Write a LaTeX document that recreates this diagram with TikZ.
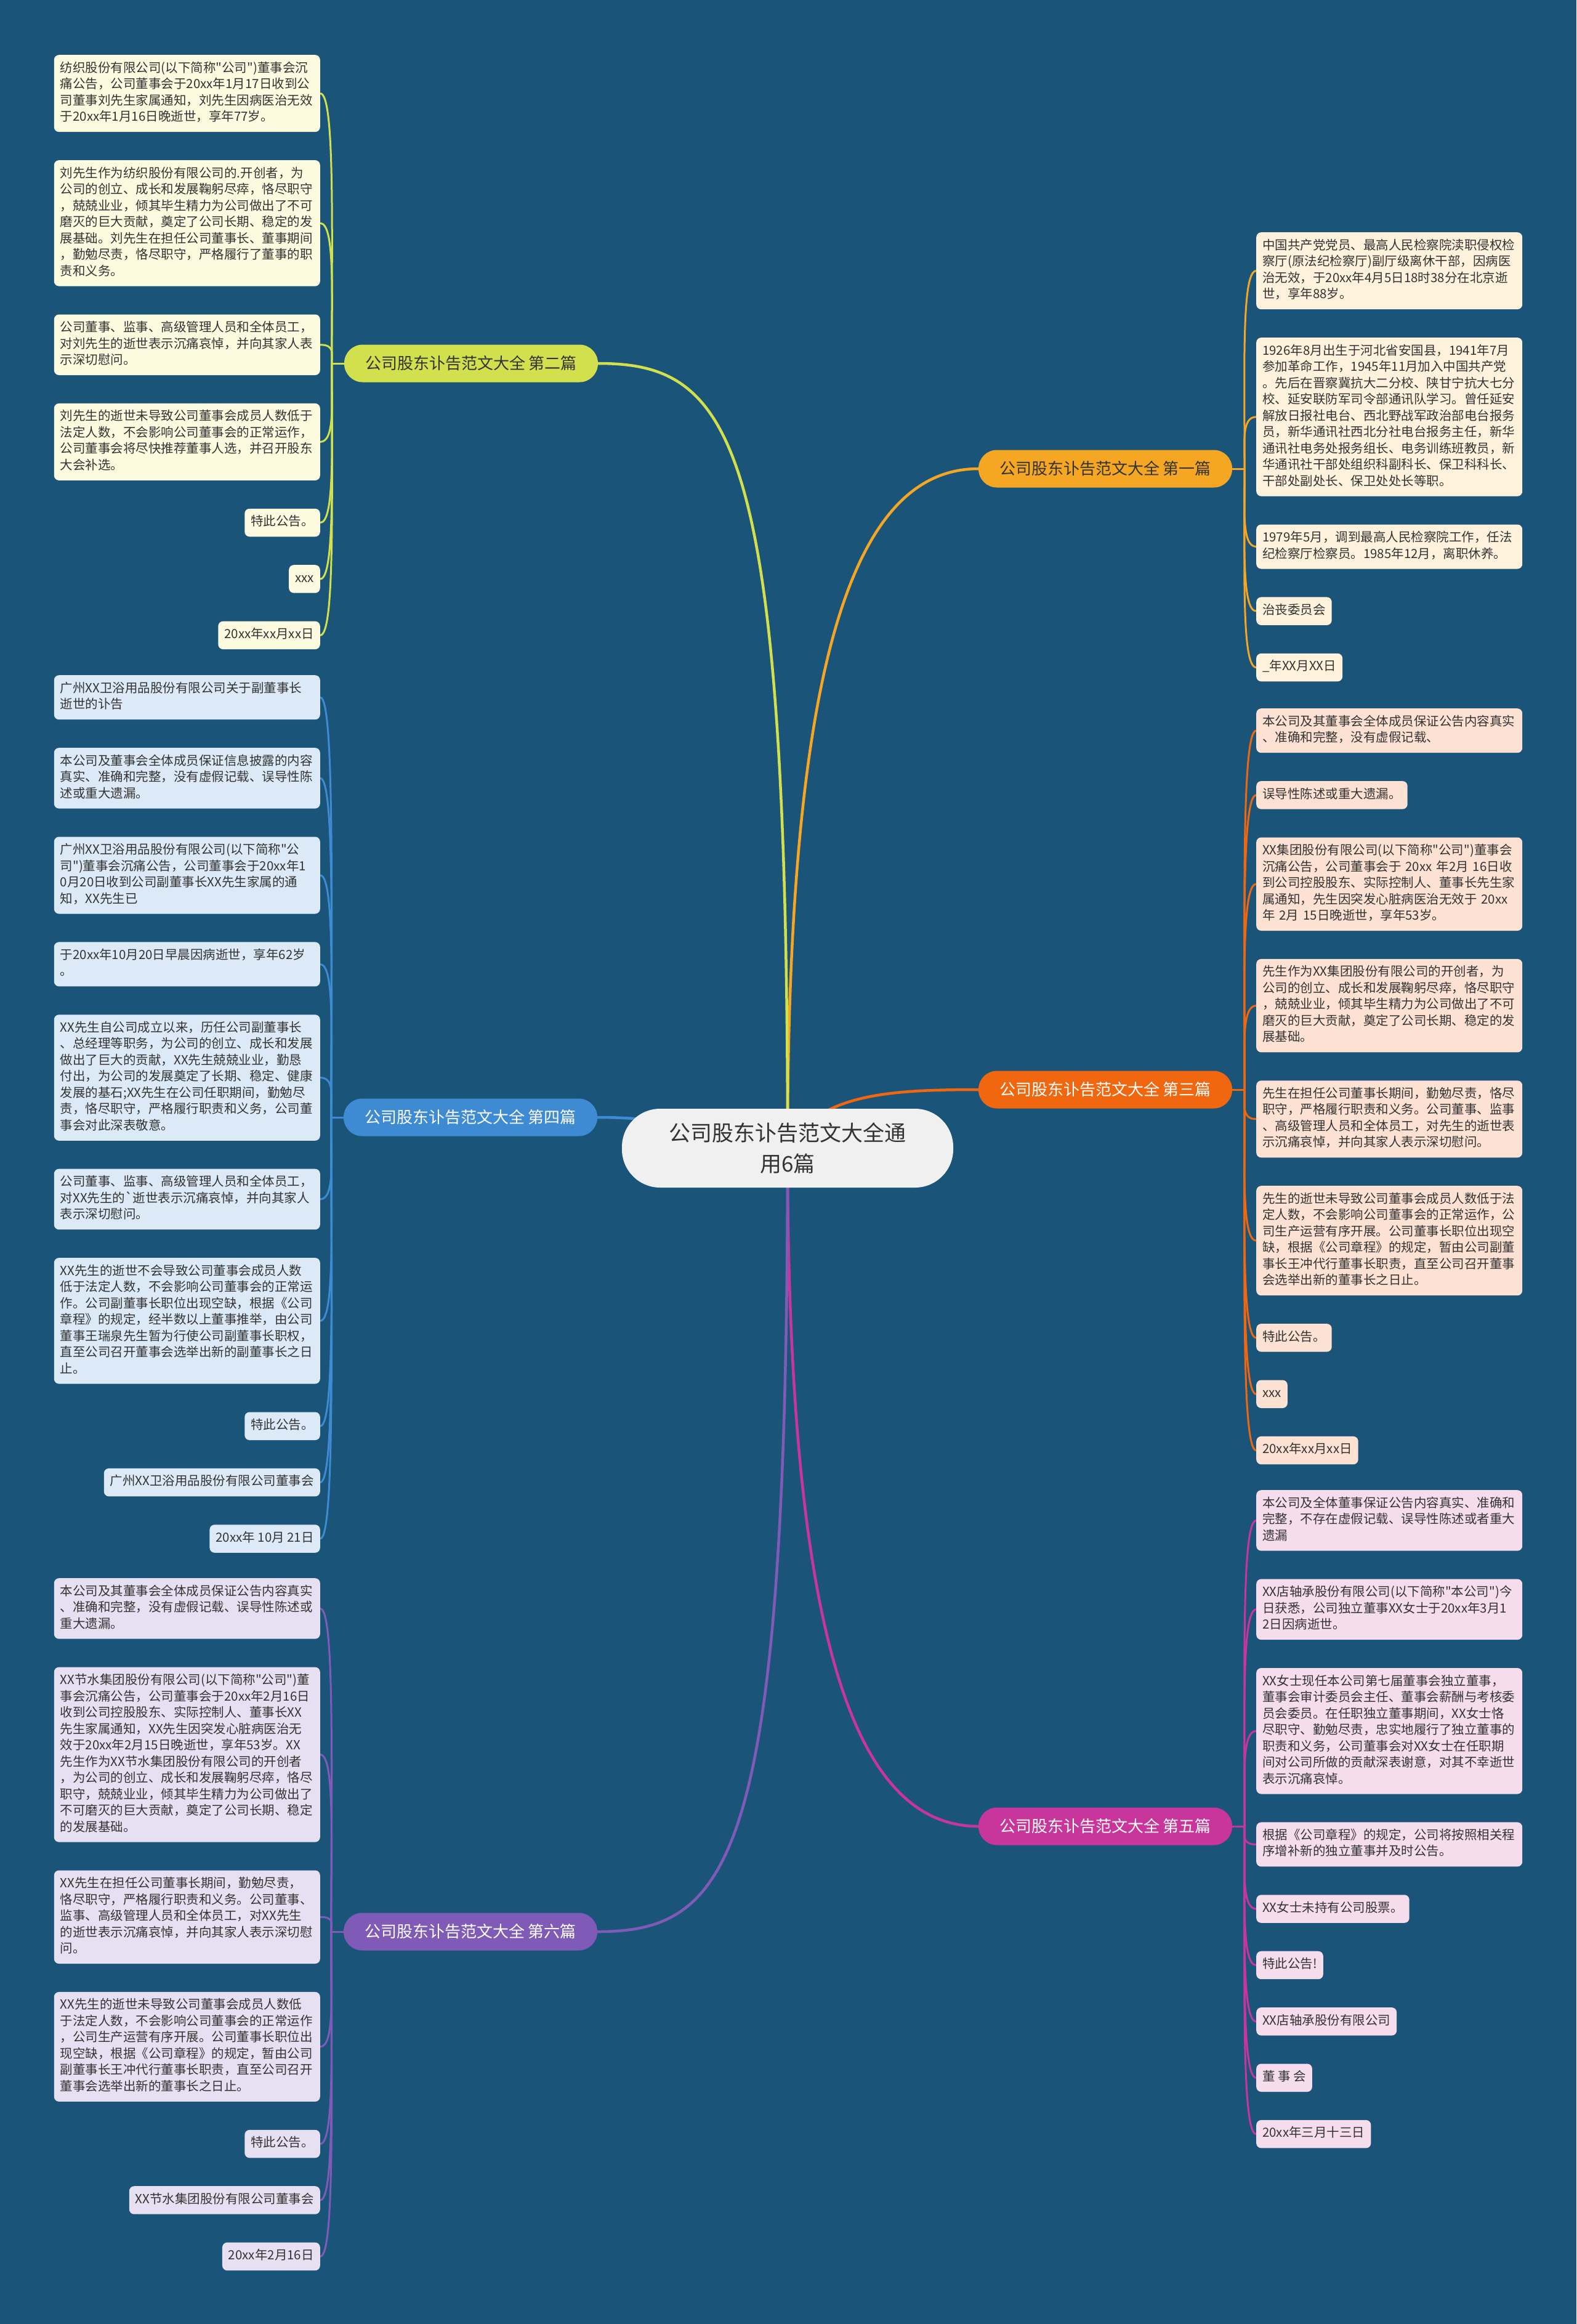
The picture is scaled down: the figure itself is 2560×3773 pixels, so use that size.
\documentclass[tikz,border=0pt]{standalone}
\usepackage{fontspec}
\newfontfamily\notofont{Noto Sans CJK SC}
\usetikzlibrary{positioning, calc, backgrounds}

\definecolor{bg}{HTML}{1B5479}
\definecolor{ink}{HTML}{333333}
\definecolor{onedark}{HTML}{F5A623}
\definecolor{onelight}{HTML}{FFF2DC}
\definecolor{twodark}{HTML}{D1E04C}
\definecolor{twolight}{HTML}{FCFBE0}
\definecolor{threedark}{HTML}{F0670F}
\definecolor{threelight}{HTML}{FDE2D3}
\definecolor{fourdark}{HTML}{3E8BD3}
\definecolor{fourlight}{HTML}{DCEAF7}
\definecolor{fivedark}{HTML}{C8359B}
\definecolor{fivelight}{HTML}{F6DDED}
\definecolor{sixdark}{HTML}{7F5BB7}
\definecolor{sixlight}{HTML}{E6E0F2}

\begin{document}
\begin{tikzpicture}[x=1pt, y=1pt,
    leaf/.style={rectangle, rounded corners=8pt, inner xsep=10pt, inner ysep=9.5pt, font=\notofont\fontsize{20.5}{26.5}\selectfont, text=ink, execute at begin node=\strut, execute at end node=\strut},
    note/.style={leaf, text width=412pt, align=left},
    branch/.style={rectangle, rounded corners=30pt, minimum width=412pt, minimum height=61pt, font=\notofont\fontsize{26}{30}\selectfont},
    link/.style={line width=3pt},
    trunk/.style={line width=4.5pt}
  ]
    \useasboundingbox (0,0) rectangle (2560,-3773);

    % centre
    \node[rectangle, rounded corners=62pt, minimum width=538pt, minimum height=128pt, fill={rgb,255:red,240;green,240;blue,240}, text=ink, align=center, font=\notofont\fontsize{35}{50}\selectfont] (root) at (1279,-1864) {公司股东讣告范文大全通\\用6篇};

    % branches
    \node[branch, fill=onedark, text=ink] (first) at (1795,-761) {公司股东讣告范文大全 第一篇};
    \node[branch, fill=twodark, text=ink] (second) at (765,-590) {公司股东讣告范文大全 第二篇};
    \node[branch, fill=threedark, text=white] (third) at (1795,-1769) {公司股东讣告范文大全 第三篇};
    \node[branch, fill=fourdark, text=white] (fourth) at (764,-1814) {公司股东讣告范文大全 第四篇};
    \node[branch, fill=fivedark, text=white] (fifth) at (1795,-2965) {公司股东讣告范文大全 第五篇};
    \node[branch, fill=sixdark, text=white] (sixth) at (764,-3136) {公司股东讣告范文大全 第六篇};

    % first
    \node[note, fill=onelight, anchor=north west] (first1) at (2040,-377) {中国共产党党员、最高人民检察院渎职侵权检\\察厅(原法纪检察厅)副厅级离休干部，因病医\\治无效，于20xx年4月5日18时38分在北京逝\\世，享年88岁。};
    \node[note, fill=onelight, below right=45.5pt and 0pt of first1.south west] (first2) {1926年8月出生于河北省安国县，1941年7月\\参加革命工作，1945年11月加入中国共产党\\。先后在晋察冀抗大二分校、陕甘宁抗大七分\\校、延安联防军司令部通讯队学习。曾任延安\\解放日报社电台、西北野战军政治部电台报务\\员，新华通讯社西北分社电台报务主任，新华\\通讯社电务处报务组长、电务训练班教员，新\\华通讯社干部处组织科副科长、保卫科科长、\\干部处副处长、保卫处处长等职。};
    \node[note, fill=onelight, below right=45.5pt and 0pt of first2.south west] (first3) {1979年5月，调到最高人民检察院工作，任法\\纪检察厅检察员。1985年12月，离职休养。};
    \node[leaf, fill=onelight, below right=45.5pt and 0pt of first3.south west] (first4) {治丧委员会};
    \node[leaf, fill=onelight, below right=45.5pt and 0pt of first4.south west] (first5) {\_年XX月XX日};

    % second
    \node[note, fill=twolight, anchor=north east] (second1) at (520,-89) {纺织股份有限公司(以下简称"公司")董事会沉\\痛公告，公司董事会于20xx年1月17日收到公\\司董事刘先生家属通知，刘先生因病医治无效\\于20xx年1月16日晚逝世，享年77岁。};
    \node[note, fill=twolight, below left=45.5pt and 0pt of second1.south east] (second2) {刘先生作为纺织股份有限公司的.开创者，为\\公司的创立、成长和发展鞠躬尽瘁，恪尽职守\\，兢兢业业，倾其毕生精力为公司做出了不可\\磨灭的巨大贡献，奠定了公司长期、稳定的发\\展基础。刘先生在担任公司董事长、董事期间\\，勤勉尽责，恪尽职守，严格履行了董事的职\\责和义务。};
    \node[note, fill=twolight, below left=45.5pt and 0pt of second2.south east] (second3) {公司董事、监事、高级管理人员和全体员工，\\对刘先生的逝世表示沉痛哀悼，并向其家人表\\示深切慰问。};
    \node[note, fill=twolight, below left=45.5pt and 0pt of second3.south east] (second4) {刘先生的逝世未导致公司董事会成员人数低于\\法定人数，不会影响公司董事会的正常运作，\\公司董事会将尽快推荐董事人选，并召开股东\\大会补选。};
    \node[leaf, fill=twolight, below left=45.5pt and 0pt of second4.south east] (second5) {特此公告。};
    \node[leaf, fill=twolight, below left=45.5pt and 0pt of second5.south east] (second6) {xxx};
    \node[leaf, fill=twolight, below left=45.5pt and 0pt of second6.south east] (second7) {20xx年xx月xx日};

    % third
    \node[note, fill=threelight, anchor=north west] (third1) at (2040,-1150) {本公司及其董事会全体成员保证公告内容真实\\、准确和完整，没有虚假记载、};
    \node[leaf, fill=threelight, below right=45.5pt and 0pt of third1.south west] (third2) {误导性陈述或重大遗漏。};
    \node[note, fill=threelight, below right=45.5pt and 0pt of third2.south west] (third3) {XX集团股份有限公司(以下简称"公司")董事会\\沉痛公告，公司董事会于 20xx 年2月 16日收\\到公司控股股东、实际控制人、董事长先生家\\属通知，先生因突发心脏病医治无效于 20xx\\年 2月 15日晚逝世，享年53岁。};
    \node[note, fill=threelight, below right=45.5pt and 0pt of third3.south west] (third4) {先生作为XX集团股份有限公司的开创者，为\\公司的创立、成长和发展鞠躬尽瘁，恪尽职守\\，兢兢业业，倾其毕生精力为公司做出了不可\\磨灭的巨大贡献，奠定了公司长期、稳定的发\\展基础。};
    \node[note, fill=threelight, below right=45.5pt and 0pt of third4.south west] (third5) {先生在担任公司董事长期间，勤勉尽责，恪尽\\职守，严格履行职责和义务。公司董事、监事\\、高级管理人员和全体员工，对先生的逝世表\\示沉痛哀悼，并向其家人表示深切慰问。};
    \node[note, fill=threelight, below right=45.5pt and 0pt of third5.south west] (third6) {先生的逝世未导致公司董事会成员人数低于法\\定人数，不会影响公司董事会的正常运作，公\\司生产运营有序开展。公司董事长职位出现空\\缺，根据《公司章程》的规定，暂由公司副董\\事长王冲代行董事长职责，直至公司召开董事\\会选举出新的董事长之日止。};
    \node[leaf, fill=threelight, below right=45.5pt and 0pt of third6.south west] (third7) {特此公告。};
    \node[leaf, fill=threelight, below right=45.5pt and 0pt of third7.south west] (third8) {xxx};
    \node[leaf, fill=threelight, below right=45.5pt and 0pt of third8.south west] (third9) {20xx年xx月xx日};

    % fourth
    \node[note, fill=fourlight, anchor=north east] (fourth1) at (520,-1096) {广州XX卫浴用品股份有限公司关于副董事长\\逝世的讣告};
    \node[note, fill=fourlight, below left=45.5pt and 0pt of fourth1.south east] (fourth2) {本公司及董事会全体成员保证信息披露的内容\\真实、准确和完整，没有虚假记载、误导性陈\\述或重大遗漏。};
    \node[note, fill=fourlight, below left=45.5pt and 0pt of fourth2.south east] (fourth3) {广州XX卫浴用品股份有限公司(以下简称"公\\司")董事会沉痛公告，公司董事会于20xx年1\\0月20日收到公司副董事长XX先生家属的通\\知，XX先生已};
    \node[note, fill=fourlight, below left=45.5pt and 0pt of fourth3.south east] (fourth4) {于20xx年10月20日早晨因病逝世，享年62岁\\。};
    \node[note, fill=fourlight, below left=45.5pt and 0pt of fourth4.south east] (fourth5) {XX先生自公司成立以来，历任公司副董事长\\、总经理等职务，为公司的创立、成长和发展\\做出了巨大的贡献，XX先生兢兢业业，勤恳\\付出，为公司的发展奠定了长期、稳定、健康\\发展的基石;XX先生在公司任职期间，勤勉尽\\责，恪尽职守，严格履行职责和义务，公司董\\事会对此深表敬意。};
    \node[note, fill=fourlight, below left=45.5pt and 0pt of fourth5.south east] (fourth6) {公司董事、监事、高级管理人员和全体员工，\\对XX先生的`逝世表示沉痛哀悼，并向其家人\\表示深切慰问。};
    \node[note, fill=fourlight, below left=45.5pt and 0pt of fourth6.south east] (fourth7) {XX先生的逝世不会导致公司董事会成员人数\\低于法定人数，不会影响公司董事会的正常运\\作。公司副董事长职位出现空缺，根据《公司\\章程》的规定，经半数以上董事推举，由公司\\董事王瑞泉先生暂为行使公司副董事长职权，\\直至公司召开董事会选举出新的副董事长之日\\止。};
    \node[leaf, fill=fourlight, below left=45.5pt and 0pt of fourth7.south east] (fourth8) {特此公告。};
    \node[leaf, fill=fourlight, below left=45.5pt and 0pt of fourth8.south east] (fourth9) {广州XX卫浴用品股份有限公司董事会};
    \node[leaf, fill=fourlight, below left=45.5pt and 0pt of fourth9.south east] (fourth10) {20xx年 10月 21日};

    % fifth
    \node[note, fill=fivelight, anchor=north west] (fifth1) at (2040,-2419) {本公司及全体董事保证公告内容真实、准确和\\完整，不存在虚假记载、误导性陈述或者重大\\遗漏};
    \node[note, fill=fivelight, below right=45.5pt and 0pt of fifth1.south west] (fifth2) {XX店轴承股份有限公司(以下简称"本公司")今\\日获悉，公司独立董事XX女士于20xx年3月1\\2日因病逝世。};
    \node[note, fill=fivelight, below right=45.5pt and 0pt of fifth2.south west] (fifth3) {XX女士现任本公司第七届董事会独立董事，\\董事会审计委员会主任、董事会薪酬与考核委\\员会委员。在任职独立董事期间，XX女士恪\\尽职守、勤勉尽责，忠实地履行了独立董事的\\职责和义务，公司董事会对XX女士在任职期\\间对公司所做的贡献深表谢意，对其不幸逝世\\表示沉痛哀悼。};
    \node[note, fill=fivelight, below right=45.5pt and 0pt of fifth3.south west] (fifth4) {根据《公司章程》的规定，公司将按照相关程\\序增补新的独立董事并及时公告。};
    \node[leaf, fill=fivelight, below right=45.5pt and 0pt of fifth4.south west] (fifth5) {XX女士未持有公司股票。};
    \node[leaf, fill=fivelight, below right=45.5pt and 0pt of fifth5.south west] (fifth6) {特此公告!};
    \node[leaf, fill=fivelight, below right=45.5pt and 0pt of fifth6.south west] (fifth7) {XX店轴承股份有限公司};
    \node[leaf, fill=fivelight, below right=45.5pt and 0pt of fifth7.south west] (fifth8) {董 事 会};
    \node[leaf, fill=fivelight, below right=45.5pt and 0pt of fifth8.south west] (fifth9) {20xx年三月十三日};

    % sixth
    \node[note, fill=sixlight, anchor=north east] (sixth1) at (520,-2562) {本公司及其董事会全体成员保证公告内容真实\\、准确和完整，没有虚假记载、误导性陈述或\\重大遗漏。};
    \node[note, fill=sixlight, below left=45.5pt and 0pt of sixth1.south east] (sixth2) {XX节水集团股份有限公司(以下简称"公司")董\\事会沉痛公告，公司董事会于20xx年2月16日\\收到公司控股股东、实际控制人、董事长XX\\先生家属通知，XX先生因突发心脏病医治无\\效于20xx年2月15日晚逝世，享年53岁。XX\\先生作为XX节水集团股份有限公司的开创者\\，为公司的创立、成长和发展鞠躬尽瘁，恪尽\\职守，兢兢业业，倾其毕生精力为公司做出了\\不可磨灭的巨大贡献，奠定了公司长期、稳定\\的发展基础。};
    \node[note, fill=sixlight, below left=45.5pt and 0pt of sixth2.south east] (sixth3) {XX先生在担任公司董事长期间，勤勉尽责，\\恪尽职守，严格履行职责和义务。公司董事、\\监事、高级管理人员和全体员工，对XX先生\\的逝世表示沉痛哀悼，并向其家人表示深切慰\\问。};
    \node[note, fill=sixlight, below left=45.5pt and 0pt of sixth3.south east] (sixth4) {XX先生的逝世未导致公司董事会成员人数低\\于法定人数，不会影响公司董事会的正常运作\\，公司生产运营有序开展。公司董事长职位出\\现空缺，根据《公司章程》的规定，暂由公司\\副董事长王冲代行董事长职责，直至公司召开\\董事会选举出新的董事长之日止。};
    \node[leaf, fill=sixlight, below left=45.5pt and 0pt of sixth4.south east] (sixth5) {特此公告。};
    \node[leaf, fill=sixlight, below left=45.5pt and 0pt of sixth5.south east] (sixth6) {XX节水集团股份有限公司董事会};
    \node[leaf, fill=sixlight, below left=45.5pt and 0pt of sixth6.south east] (sixth7) {20xx年2月16日};

    \begin{scope}[on background layer]
      \fill[bg] (0,0) rectangle (2560,-3773);

      % centre to branches
      \draw[trunk, onedark] (root.center) .. controls ($(root.center)+(0,800)$) and ($(first.west)+(-200,0)$) .. (first.west);
      \draw[trunk, twodark] (root.center) .. controls ($(root.center)+(0,1150)$) and ($(second.east)+(220,0)$) .. (second.east);
      \draw[trunk, threedark] (root.center) .. controls ($(root.center)+(50,87)$) and ($(third.west)+(-150,0)$) .. (third.west);
      \draw[trunk, fourdark] (root.center) .. controls ($(root.center)+(-97,26)$) and ($(fourth.east)+(120,0)$) .. (fourth.east);
      \draw[trunk, fivedark] (root.center) .. controls ($(root.center)+(0,-800)$) and ($(fifth.west)+(-200,0)$) .. (fifth.west);
      \draw[trunk, sixdark] (root.center) .. controls ($(root.center)+(0,-1150)$) and ($(sixth.east)+(220,0)$) .. (sixth.east);

      % branches to leaves
      \draw[link, onedark] (first.east) -- ++(20pt,0) coordinate (s1);
      \foreach \n in {1,...,5}
        \draw[link, onedark] (s1) .. controls ($(s1)!0.5!(s1 |- first\n.west)$) and ($(first\n.west)+(-24pt,0)$) .. (first\n.west);
      \draw[link, twodark] (second.west) -- ++(-20pt,0) coordinate (s2);
      \foreach \n in {1,...,7}
        \draw[link, twodark] (s2) .. controls ($(s2)!0.5!(s2 |- second\n.east)$) and ($(second\n.east)+(24pt,0)$) .. (second\n.east);
      \draw[link, threedark] (third.east) -- ++(20pt,0) coordinate (s3);
      \foreach \n in {1,...,9}
        \draw[link, threedark] (s3) .. controls ($(s3)!0.5!(s3 |- third\n.west)$) and ($(third\n.west)+(-24pt,0)$) .. (third\n.west);
      \draw[link, fourdark] (fourth.west) -- ++(-20pt,0) coordinate (s4);
      \foreach \n in {1,...,10}
        \draw[link, fourdark] (s4) .. controls ($(s4)!0.5!(s4 |- fourth\n.east)$) and ($(fourth\n.east)+(24pt,0)$) .. (fourth\n.east);
      \draw[link, fivedark] (fifth.east) -- ++(20pt,0) coordinate (s5);
      \foreach \n in {1,...,9}
        \draw[link, fivedark] (s5) .. controls ($(s5)!0.5!(s5 |- fifth\n.west)$) and ($(fifth\n.west)+(-24pt,0)$) .. (fifth\n.west);
      \draw[link, sixdark] (sixth.west) -- ++(-20pt,0) coordinate (s6);
      \foreach \n in {1,...,7}
        \draw[link, sixdark] (s6) .. controls ($(s6)!0.5!(s6 |- sixth\n.east)$) and ($(sixth\n.east)+(24pt,0)$) .. (sixth\n.east);
    \end{scope}
  \end{tikzpicture}
\end{document}
